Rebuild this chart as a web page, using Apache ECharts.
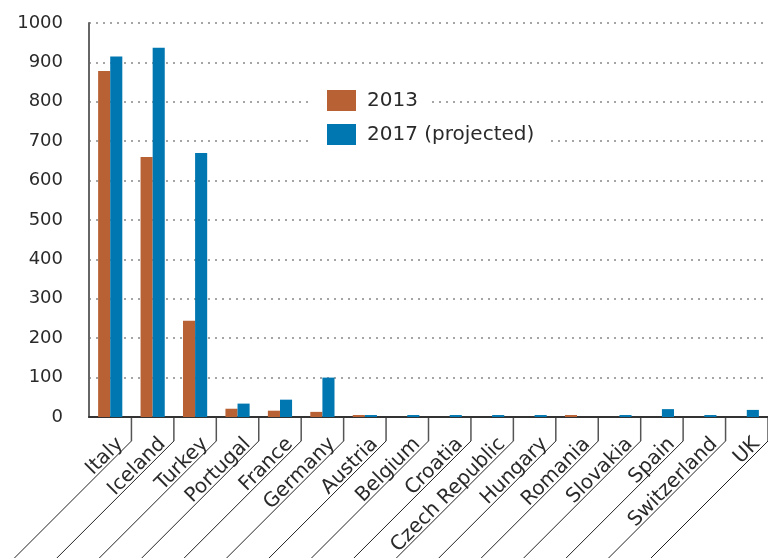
<!DOCTYPE html>
<html><head><meta charset="utf-8">
<script src="https://cdn.jsdelivr.net/npm/echarts@6/dist/echarts.min.js"></script>
<style>html,body{margin:0;padding:0;background:#fff}#c{width:768px;height:558px}</style>
</head><body><div id="c"></div>
<script>
const categories = ["Italy","Iceland","Turkey","Portugal","France","Germany","Austria","Belgium","Croatia","Czech Republic","Hungary","Romania","Slovakia","Spain","Switzerland","UK"];
const values2013 = [878, 660, 244, 21, 16, 13, 5, 0, 0, 0, 0, 5, 0, 0, 0, 0];
const values2017 = [915, 937, 670, 34, 44, 100, 5, 5, 5, 5, 5, 0, 5, 20, 5, 18];
const yTicks = [0, 100, 200, 300, 400, 500, 600, 700, 800, 900, 1000];

const FONT = "DejaVu Sans";
const chart = echarts.init(document.getElementById('c'), null, {renderer: 'canvas'});
chart.setOption({
  animation: false,
  textStyle: {fontFamily: FONT},
  grid: {left: 89, right: 0, top: 23, bottom: 141, containLabel: false, outerBoundsMode: 'none'},
  legend: {
    left: 322, top: 85, orient: 'vertical', z: 10,
    itemWidth: 29, itemHeight: 21, itemGap: 13,
    padding: 5,
    icon: 'rect',
    textStyle: {fontFamily: FONT, fontSize: 20, color: '#2a2a2a', padding: [0, 0, 0, 6]},
    data: ['2013', '2017 (projected)']
  },
  xAxis: {
    type: 'category', data: categories, boundaryGap: true,
    axisLine: {lineStyle: {color: '#333', width: 2}},
    axisTick: {show: false},
    axisLabel: {rotate: 45, margin: 0, fontSize: 20, color: '#2a2a2a', fontFamily: FONT, interval: 0,
                verticalAlign: 'top', padding: [14, 10, 0, 0]}
  },
  yAxis: {
    type: 'value', min: yTicks[0], max: yTicks[yTicks.length - 1], interval: 100,
    axisLine: {show: true, lineStyle: {color: '#666', width: 2}},
    axisTick: {show: false},
    axisLabel: {fontSize: 18, color: '#2a2a2a', fontFamily: FONT, margin: 26, formatter: v => String(v)},
    splitLine: {lineStyle: {color: '#888', type: [2, 5], width: 1.5}}
  },
  series: [
    {name: '2013', type: 'bar', data: values2013, itemStyle: {color: '#B86134'}, barGap: '0%', barCategoryGap: '43%'},
    {name: '2017 (projected)', type: 'bar', data: values2017, itemStyle: {color: '#0077B1'}}
  ]
});

// separators under the category axis: tick + diagonal line at each category boundary
const c0 = chart.convertToPixel({xAxisIndex: 0}, 0);
const c1 = chart.convertToPixel({xAxisIndex: 0}, 1);
const band = c1 - c0;
const y0 = chart.convertToPixel({yAxisIndex: 0}, 0);
const els = [];
for (let i = 0; i < categories.length; i++) {
  const bx = chart.convertToPixel({xAxisIndex: 0}, i) + band / 2;
  els.push({type: 'line', silent: true, shape: {x1: bx, y1: y0, x2: bx, y2: y0 + 24}, style: {stroke: '#555', lineWidth: 1.5}});
  els.push({type: 'line', silent: true, shape: {x1: bx, y1: y0 + 24, x2: bx - 125, y2: y0 + 149}, style: {stroke: '#222', lineWidth: 1}});
}
// white backing behind each legend item
els.push({type: 'rect', z: 5, silent: true, shape: {x: 310, y: 88, width: 120, height: 26}, style: {fill: '#fff'}});
els.push({type: 'rect', z: 5, silent: true, shape: {x: 310, y: 122, width: 237, height: 26}, style: {fill: '#fff'}});
chart.setOption({graphic: els});
</script>
</body></html>
